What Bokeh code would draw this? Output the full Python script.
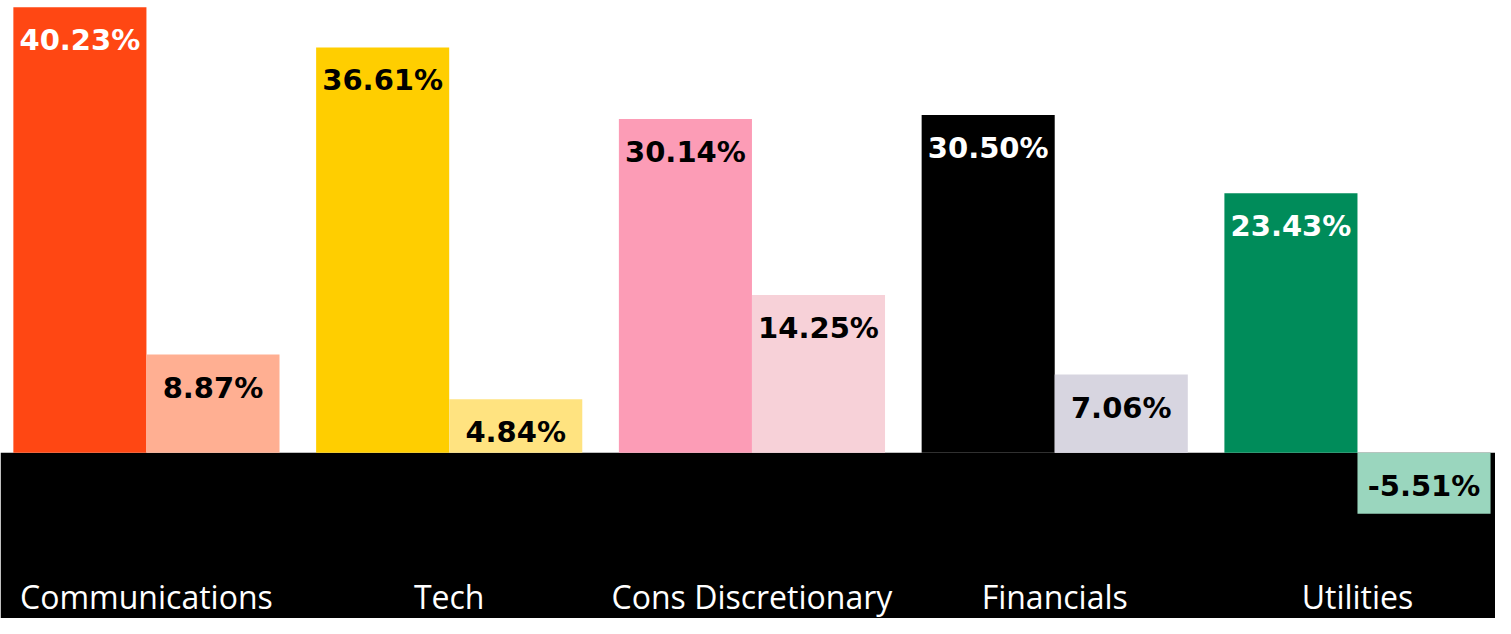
from bokeh.plotting import figure
from bokeh.models import ColumnDataSource, Range1d, BoxAnnotation, LabelSet
from bokeh.core.properties import value
from bokeh.transform import dodge
from bokeh.embed import file_html
from bokeh.resources import INLINE

# ---- data ----
categories = ["Communications", "Tech", "Cons Discretionary", "Financials", "Utilities"]
series_a = [40.23, 36.61, 30.14, 30.50, 23.43]
series_b = [8.87, 4.84, 14.25, 7.06, -5.51]
colors_a = ["#FF4713", "#FFCE00", "#FC9CB6", "#000000", "#008C5A"]
colors_b = ["#FFAF92", "#FFE380", "#F7D1D8", "#D7D5E0", "#9AD6BE"]
text_colors_a = ["white", "black", "black", "white", "white"]
text_colors_b = ["black", "black", "black", "black", "black"]

idx = list(range(len(categories)))
src = ColumnDataSource(dict(
    x=idx,
    cat=categories,
    a=series_a,
    b=series_b,
    a_top=[max(v, 0) for v in series_a],
    b_top=[max(v, 0) for v in series_b],
    a_lbl=[f"{v:.2f}%" for v in series_a],
    b_lbl=[f"{v:.2f}%" for v in series_b],
    ca=colors_a,
    cb=colors_b,
    ta=text_colors_a,
    tb=text_colors_b,
))

W, H = 1495, 618
sx = W / 1511.0
sy = H / 634.0
unit_px = 306.0 * sx          # width of one category slot
x0_px = 147.5 * sx            # centre of first group
bar_px = 134.5 * sx
ppu = 11.36                   # reference pixels per percentage point
zero_ref = 464.0

p = figure(width=W, height=H, output_backend="svg", toolbar_location=None,
           x_axis_location=None, y_axis_location=None,
           x_range=Range1d(-x0_px / unit_px, (W - x0_px) / unit_px),
           y_range=Range1d(-(634.0 - zero_ref) / ppu, zero_ref / ppu),
           min_border=0, min_border_left=0, min_border_right=0,
           min_border_top=0, min_border_bottom=0)
p.outline_line_color = None
p.grid.visible = False
p.background_fill_color = "white"
p.border_fill_color = "white"

p.add_layout(BoxAnnotation(top=0, fill_color="black", fill_alpha=1.0,
                           line_alpha=0, level="underlay"))

bw = bar_px / unit_px
off = bw / 2
p.vbar(x=dodge("x", -off), top="a", bottom=0, width=bw, source=src,
       fill_color="ca", line_color=None)
p.vbar(x=dodge("x", off), top="b", bottom=0, width=bw, source=src,
       fill_color="cb", line_color=None)

lbl_font = "DejaVu Sans"
for xs, ys, txt, col in ((-off, "a_top", "a_lbl", "ta"), (off, "b_top", "b_lbl", "tb")):
    p.add_layout(LabelSet(x=dodge("x", xs), y=ys, text=txt, source=src,
                          y_offset=-33, text_align="center", text_baseline="middle",
                          text_color=col, text_font=value(lbl_font),
                          text_font_style="bold", text_font_size="29px"))

cat_y = -(596.0 / sy - zero_ref) / ppu
p.text(x="x", y=cat_y, text="cat", source=src, text_align="center",
       text_baseline="middle", text_color="white",
       text_font=value("Open Sans"), text_font_size="32px")

open("out.html", "w").write(file_html(p, INLINE))
